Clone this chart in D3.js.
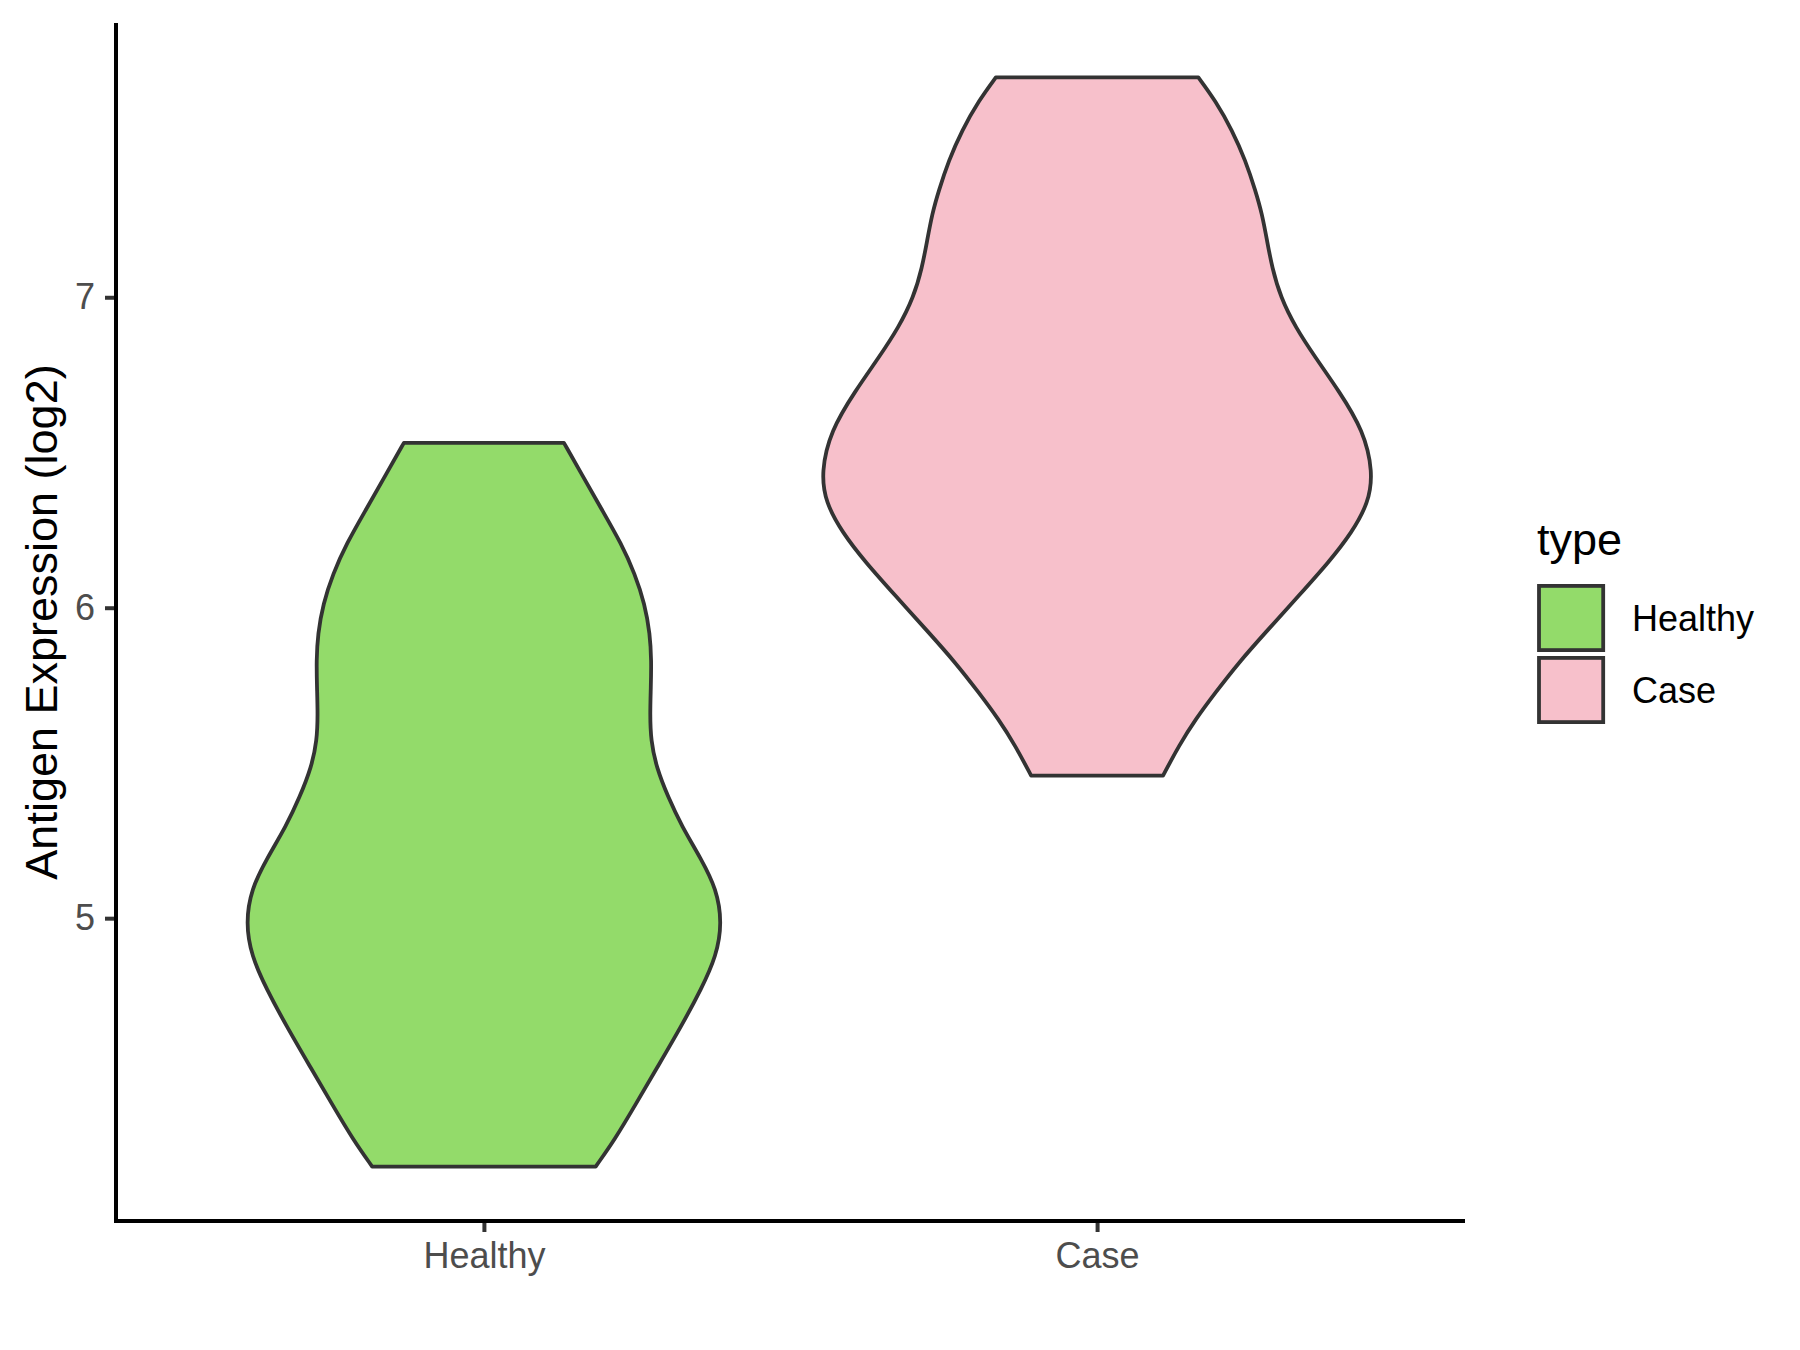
<!DOCTYPE html>
<html>
<head>
<meta charset="utf-8">
<script src="https://cdn.jsdelivr.net/npm/d3@7"></script>
<style>
  html, body { margin: 0; padding: 0; background: #ffffff; }
  svg { display: block; font-family: "Liberation Sans", Arial, Helvetica, sans-serif; }
</style>
</head>
<body>
<svg id="chart" width="1800" height="1350"></svg>
<script>
// ---------------- data ----------------
const categories = ["Healthy", "Case"];
const yTicks = [5, 6, 7];
const yTitle = "Antigen Expression (log2)";
const legendTitle = "type";

// Healthy violin: expression values (log2) and scaled kernel density at each value
const healthyValues = [6.531, 6.431, 6.318, 6.205, 6.109, 6.012, 5.915, 5.829, 5.743, 5.658, 5.572, 5.486,
  5.389, 5.298, 5.190, 5.094, 4.986, 4.879, 4.772, 4.653, 4.525, 4.396, 4.288, 4.200];
const healthyDensity = [0.290, 0.354, 0.426, 0.499, 0.547, 0.583, 0.602, 0.607, 0.605, 0.602, 0.605, 0.625,
  0.668, 0.716, 0.788, 0.843, 0.863, 0.843, 0.788, 0.716, 0.632, 0.547, 0.475, 0.405];

// Case violin
const caseValues = [7.708, 7.633, 7.537, 7.440, 7.343, 7.268, 7.182, 7.096, 7.000, 6.903, 6.806, 6.699,
  6.570, 6.436, 6.339, 6.243, 6.146, 6.039, 5.920, 5.824, 5.727, 5.641, 5.555, 5.459];
const caseDensity = [0.367, 0.429, 0.490, 0.538, 0.574, 0.598, 0.616, 0.634, 0.665, 0.719, 0.791, 0.876,
  0.966, 1.000, 0.984, 0.924, 0.839, 0.731, 0.610, 0.514, 0.429, 0.357, 0.296, 0.239];

// ---------------- styles ----------------
const fillColors = { "Healthy": "#93DB6A", "Case": "#F7C0CB" };
const outlineColor = "#333333";

// ---------------- layout ----------------
const panel = { left: 116, right: 1465, top: 23, bottom: 1221 };

const groups = [
  { name: "Healthy", values: healthyValues, density: healthyDensity },
  { name: "Case", values: caseValues, density: caseDensity }
];

const svg = d3.select("#chart");

// y scale with ggplot-like 5% expansion
const allVals = healthyValues.concat(caseValues);
const [vmin, vmax] = d3.extent(allVals);
const pad = (vmax - vmin) * 0.05;
const y = d3.scaleLinear().domain([vmin - pad, vmax + pad]).range([panel.bottom, panel.top]);

// discrete x scale with 0.6 expansion
const x = d3.scalePoint().domain(categories).range([panel.left, panel.right]).padding(0.6);
const maxDens = d3.max(healthyDensity.concat(caseDensity));
const w = d3.scaleLinear().domain([0, maxDens]).range([0, 0.45 * x.step()]);

// violins
groups.forEach(g => {
  const cx = x(g.name);
  const pts = g.values.map((v, i) => ({ v, d: g.density[i] }));
  const gen = d3.area()
    .y(p => y(p.v))
    .x0(p => cx - w(p.d))
    .x1(p => cx + w(p.d))
    .curve(d3.curveBasis);
  svg.append("path")
    .attr("d", gen(pts))
    .attr("fill", fillColors[g.name])
    .attr("stroke", outlineColor)
    .attr("stroke-width", 3.8)
    .attr("stroke-linejoin", "round");
});

// y axis
const yAxis = d3.axisLeft(y).tickValues(yTicks).tickSize(11).tickSizeOuter(0).tickPadding(10)
  .tickFormat(d3.format("d"));
const gy = svg.append("g").attr("transform", `translate(${panel.left},0)`).call(yAxis);
gy.select(".domain").remove();
gy.selectAll(".tick line").attr("stroke", outlineColor).attr("stroke-width", 4);
gy.selectAll(".tick text").attr("fill", "#4D4D4D").attr("font-size", 36)
  .attr("font-family", "'Liberation Sans', Arial, sans-serif");

// x axis
const xAxis = d3.axisBottom(x).tickSize(11).tickSizeOuter(0).tickPadding(10);
const gx = svg.append("g").attr("transform", `translate(0,${panel.bottom})`).call(xAxis);
gx.select(".domain").remove();
gx.selectAll(".tick line").attr("stroke", outlineColor).attr("stroke-width", 4);
gx.selectAll(".tick text").attr("fill", "#4D4D4D").attr("font-size", 36)
  .attr("font-family", "'Liberation Sans', Arial, sans-serif");

// axis lines
svg.append("line").attr("x1", panel.left).attr("x2", panel.left)
  .attr("y1", panel.top).attr("y2", panel.bottom + 2)
  .attr("stroke", "#000").attr("stroke-width", 4);
svg.append("line").attr("x1", panel.left - 2).attr("x2", panel.right)
  .attr("y1", panel.bottom).attr("y2", panel.bottom)
  .attr("stroke", "#000").attr("stroke-width", 4);

// y title
svg.append("text")
  .attr("transform", `translate(57,${(panel.top + panel.bottom) / 2}) rotate(-90)`)
  .attr("text-anchor", "middle")
  .attr("font-size", 45)
  .attr("fill", "#000")
  .text(yTitle);

// legend
const lg = svg.append("g").attr("transform", "translate(1537,0)");
lg.append("text").attr("x", 0).attr("y", 555).attr("font-size", 45).attr("fill", "#000").text(legendTitle);
const keySize = 72;
const keyStroke = 3.8;
categories.forEach((c, i) => {
  const top = 582 + i * keySize;
  lg.append("rect")
    .attr("x", 2).attr("y", top + 2 + keyStroke / 2)
    .attr("width", 68 - keyStroke).attr("height", 68 - keyStroke)
    .attr("fill", fillColors[c])
    .attr("stroke", outlineColor)
    .attr("stroke-width", keyStroke);
  lg.append("text")
    .attr("x", 95).attr("y", top + keySize / 2)
    .attr("dy", "0.36em")
    .attr("font-size", 36)
    .attr("fill", "#000")
    .text(c);
});
</script>
</body>
</html>
